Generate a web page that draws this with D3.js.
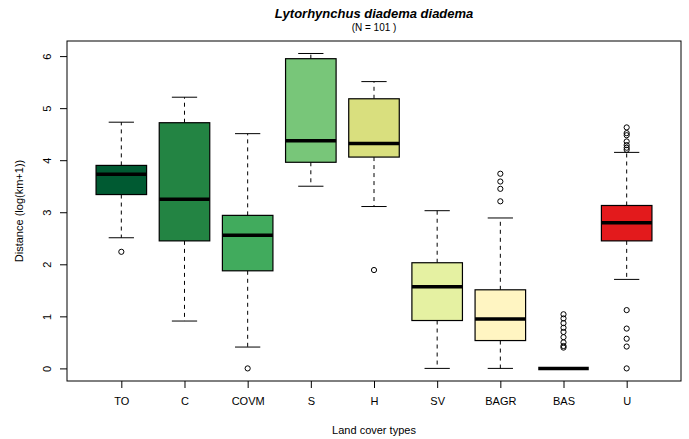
<!DOCTYPE html>
<html>
<head>
<meta charset="utf-8">
<script src="https://cdn.jsdelivr.net/npm/d3@7"></script>
<style>
  body { margin: 0; background: #fff; }
  text { font-family: "Liberation Sans", Arial, Helvetica, sans-serif; }
</style>
</head>
<body>
<svg></svg>
<script>
const categories = ["TO", "C", "COVM", "S", "H", "SV", "BAGR", "BAS", "U"];
const whiskerLow = [2.51, 0.91, 0.41, 3.50, 3.11, 0, 0, 0, 1.71];
const q1 = [3.34, 2.45, 1.875, 3.96, 4.06, 0.92, 0.535, 0, 2.45];
const median = [3.73, 3.25, 2.56, 4.375, 4.32, 1.57, 0.95, 0, 2.80];
const q3 = [3.90, 4.72, 2.94, 5.95, 5.18, 2.03, 1.51, 0, 3.13];
const whiskerHigh = [4.73, 5.21, 4.51, 6.05, 5.51, 3.03, 2.89, 0, 4.15];
const outliers = [
  [2.24],
  [],
  [0],
  [],
  [1.89],
  [],
  [3.74, 3.59, 3.45, 3.21],
  [1.04, 0.96, 0.87, 0.78, 0.70, 0.60, 0.50, 0.43, 0.40],
  [4.63, 4.52, 4.48, 4.36, 4.29, 4.24, 4.20, 1.12, 0.765, 0.57, 0.42, 0]
];
const fills = ["#005a32", "#238443", "#41ab5d", "#78c679", "#d9df7e", "#e5f1a2", "#fff5c2", "#ffffe5", "#e31a1c"];
const yTicks = [0, 1, 2, 3, 4, 5, 6];

const svgWidth = 689, svgHeight = 439;
const margin = { top: 41, right: 8, bottom: 58, left: 67 };
const width = svgWidth - margin.left - margin.right;
const height = svgHeight - margin.top - margin.bottom;

const svg = d3.select("svg")
  .attr("width", svgWidth)
  .attr("height", svgHeight);

const g = svg.append("g")
  .attr("transform", "translate(" + margin.left + "," + margin.top + ")");

// R style: range +- 0.5, extended by 4% each side
const xr = [0.5 - 0.36, 9.5 + 0.36];
const x = d3.scaleLinear().domain(xr).range([0, width]);
const y = d3.scaleLinear().domain([-0.242, 6.29]).range([height, 0]);
const unit = x(2) - x(1);
const boxW = unit * 0.8;

// frame
g.append("rect")
  .attr("width", width).attr("height", height)
  .attr("fill", "none").attr("stroke", "#000").attr("stroke-width", 1);

// axes
const xAxis = g.append("g")
  .attr("transform", "translate(0," + height + ")")
  .call(d3.axisBottom(x).tickValues(d3.range(1, 10)).tickFormat(i => categories[i - 1]).tickSizeOuter(0).tickSize(7).tickPadding(9));
xAxis.select(".domain").remove();
xAxis.selectAll("text").attr("font-size", 11).attr("fill", "#000");

const yAxis = g.append("g")
  .call(d3.axisLeft(y).tickValues(yTicks).tickFormat(d3.format("d")).tickSize(7).tickSizeOuter(0));
yAxis.select(".domain").remove();
yAxis.selectAll(".tick text")
  .attr("font-size", 11).attr("fill", "#000")
  .attr("text-anchor", "middle")
  .attr("x", 0).attr("dy", 0)
  .attr("transform", "translate(-20,0) rotate(-90)")
  .attr("dominant-baseline", "central");

// boxes
const boxes = g.selectAll(".box")
  .data(categories.map((c, i) => ({ c, i })))
  .join("g")
  .attr("transform", d => "translate(" + x(d.i + 1) + ",0)");

// whiskers
boxes.append("line")
  .attr("y1", d => y(q3[d.i])).attr("y2", d => y(whiskerHigh[d.i]))
  .attr("stroke", "#000").attr("stroke-dasharray", "4,4");
boxes.append("line")
  .attr("y1", d => y(q1[d.i])).attr("y2", d => y(whiskerLow[d.i]))
  .attr("stroke", "#000").attr("stroke-dasharray", "4,4");
boxes.append("line")
  .attr("x1", -boxW / 4).attr("x2", boxW / 4)
  .attr("y1", d => y(whiskerHigh[d.i])).attr("y2", d => y(whiskerHigh[d.i]))
  .attr("stroke", "#000");
boxes.append("line")
  .attr("x1", -boxW / 4).attr("x2", boxW / 4)
  .attr("y1", d => y(whiskerLow[d.i])).attr("y2", d => y(whiskerLow[d.i]))
  .attr("stroke", "#000");

boxes.append("rect")
  .attr("x", -boxW / 2).attr("width", boxW)
  .attr("y", d => y(q3[d.i]))
  .attr("height", d => y(q1[d.i]) - y(q3[d.i]))
  .attr("fill", d => fills[d.i])
  .attr("stroke", "#000").attr("stroke-width", 1.2);

boxes.append("line")
  .attr("x1", -boxW / 2).attr("x2", boxW / 2)
  .attr("y1", d => y(median[d.i])).attr("y2", d => y(median[d.i]))
  .attr("stroke", "#000").attr("stroke-width", 3.5);

boxes.selectAll("circle")
  .data(d => outliers[d.i])
  .join("circle")
  .attr("cx", 0).attr("cy", v => y(v)).attr("r", 2.6)
  .attr("fill", "none").attr("stroke", "#000").attr("stroke-width", 1);

// titles
svg.append("text")
  .attr("x", margin.left + width / 2).attr("y", 18)
  .attr("text-anchor", "middle")
  .attr("font-size", 13).attr("font-weight", "bold").attr("font-style", "italic")
  .text("Lytorhynchus diadema diadema");
svg.append("text")
  .attr("x", margin.left + width / 2).attr("y", 31)
  .attr("text-anchor", "middle").attr("font-size", 10)
  .text("(N = 101 )");

svg.append("text")
  .attr("x", margin.left + width / 2).attr("y", 434)
  .attr("text-anchor", "middle").attr("font-size", 11)
  .text("Land cover types");

svg.append("text")
  .attr("transform", "translate(23," + (margin.top + height / 2) + ") rotate(-90)")
  .attr("text-anchor", "middle").attr("font-size", 11)
  .text("Distance (log(km+1))");
</script>
</body>
</html>
